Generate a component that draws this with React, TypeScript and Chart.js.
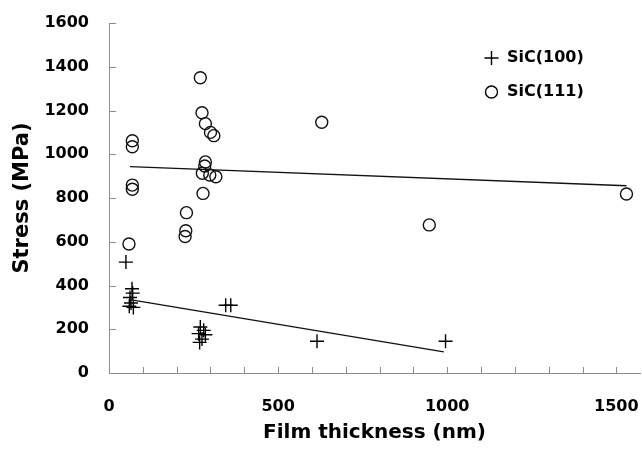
import React, { useEffect, useRef } from "react";
import { Chart, registerables } from "chart.js";

Chart.register(...registerables);

// SiC(100) measurements: film thickness (nm) and stress (MPa)
const thickness100 = [50, 68, 70, 62, 65, 60, 72, 270, 280, 265, 285, 275, 268, 345, 360, 615, 995];
const stress100 = [507, 385, 365, 345, 320, 305, 300, 210, 195, 180, 175, 155, 140, 310, 310, 145, 145];

// SiC(111) measurements
const thickness111 = [59, 69, 69, 69, 69, 229, 227, 225, 270, 275, 285, 300, 310, 285, 283, 276, 298, 316, 278, 629, 947, 1530];
const stress111 = [590, 1062, 1034, 859, 840, 733, 650, 624, 1350, 1190, 1140, 1100, 1085, 965, 946, 913, 905, 897, 821, 1146, 677, 818];

// Linear trend line end points
const trendX100 = [62, 990];
const trendY100 = [335, 97];
const trendX111 = [62, 1530];
const trendY111 = [943, 856];

const xLabels = [0, 500, 1000, 1500];
const X_MAX = 1570;
const X_MINOR = 100;
const seriesNames = ["SiC(100)", "SiC(111)"];

const FONT = "'DejaVu Sans', sans-serif";

const zip = (xs: number[], ys: number[]) => xs.map((x, i) => ({ x, y: ys[i] }));

const innerTicksPlugin = {
  id: "innerTicks",
  afterDraw(chart: any) {
    const ctx = chart.ctx;
    const xs = chart.scales.x;
    const ys = chart.scales.y;
    ctx.save();
    ctx.strokeStyle = "#8c8c8c";
    ctx.lineWidth = 1;
    ctx.beginPath();
    xs.ticks.forEach((t: any) => {
      if (t.value === 0 || t.value % X_MINOR !== 0) return;
      const px = Math.round(xs.getPixelForValue(t.value)) + 0.5;
      ctx.moveTo(px, ys.bottom);
      ctx.lineTo(px, ys.bottom - 6);
    });
    ys.ticks.forEach((t: any) => {
      if (t.value === 0) return;
      const py = Math.round(ys.getPixelForValue(t.value)) + 0.5;
      ctx.moveTo(xs.left, py);
      ctx.lineTo(xs.left + 7, py);
    });
    ctx.stroke();
    ctx.restore();
  },
};

const legendPlugin = {
  id: "customLegend",
  afterDraw(chart: any) {
    const ctx = chart.ctx;
    ctx.save();
    ctx.strokeStyle = "#000";
    ctx.lineWidth = 1.4;
    const px = 491.5, py1 = 58, py2 = 92;
    ctx.beginPath();
    ctx.moveTo(px - 7, py1);
    ctx.lineTo(px + 7, py1);
    ctx.moveTo(px, py1 - 7);
    ctx.lineTo(px, py1 + 7);
    ctx.stroke();
    ctx.beginPath();
    ctx.arc(px, py2, 6, 0, Math.PI * 2);
    ctx.stroke();
    ctx.fillStyle = "#000";
    ctx.font = `bold 16px ${FONT}`;
    ctx.textBaseline = "middle";
    ctx.textAlign = "left";
    ctx.fillText(seriesNames[0], 507, py1);
    ctx.fillText(seriesNames[1], 507, py2);
    ctx.restore();
  },
};

export default function App() {
  const ref = useRef<HTMLCanvasElement | null>(null);

  useEffect(() => {
    if (!ref.current) return;
    const chart = new Chart(ref.current, {
      type: "scatter",
      data: {
        datasets: [
          {
            label: seriesNames[0],
            data: zip(thickness100, stress100),
            pointStyle: "cross",
            pointRadius: 7,
            borderColor: "#000",
            borderWidth: 1.4,
            backgroundColor: "#000",
          },
          {
            label: seriesNames[1],
            data: zip(thickness111, stress111),
            pointStyle: "circle",
            pointRadius: 6,
            borderColor: "#111",
            borderWidth: 1.4,
            backgroundColor: "rgba(0,0,0,0)",
          },
          {
            label: "trend100",
            type: "line",
            data: zip(trendX100, trendY100),
            showLine: true,
            pointRadius: 0,
            borderColor: "#111",
            borderWidth: 1.3,
          },
          {
            label: "trend111",
            type: "line",
            data: zip(trendX111, trendY111),
            showLine: true,
            pointRadius: 0,
            borderColor: "#111",
            borderWidth: 1.3,
          },
        ],
      } as any,
      options: {
        animation: false,
        responsive: false,
        maintainAspectRatio: false,
        layout: { autoPadding: false, padding: { left: 0, right: 2, top: 23, bottom: 0 } },
        plugins: {
          legend: { display: false },
          tooltip: { enabled: false },
        },
        scales: {
          x: {
            type: "linear",
            min: 0,
            max: X_MAX,
            grid: { display: false, drawTicks: true, tickLength: 24 },
            border: { display: true, color: "#8c8c8c", width: 1 },
            afterBuildTicks: (s: any) => {
              const t: any[] = [];
              for (let v = 0; v <= 1500; v += X_MINOR) t.push({ value: v });
              t.push({ value: X_MAX });
              s.ticks = t;
            },
            ticks: {
              autoSkip: false,
              maxRotation: 0,
              padding: 0,
              color: "#000",
              font: { family: FONT, size: 16, weight: "bold" },
              callback: (v: any) => (xLabels.includes(Number(v)) ? String(v) : ""),
            },
            title: {
              display: true,
              text: "Film thickness (nm)",
              color: "#000",
              font: { family: FONT, size: 20, weight: "bold" },
              padding: { top: 0, bottom: 6 },
            },
            afterFit: (s: any) => {
              s.height = 78;
            },
          },
          y: {
            type: "linear",
            min: 0,
            max: 1600,
            grid: { display: false, drawTicks: true, tickLength: 20 },
            border: { display: true, color: "#8c8c8c", width: 1 },
            ticks: {
              stepSize: 200,
              padding: 0,
              color: "#000",
              font: { family: FONT, size: 16, weight: "bold" },
              callback: (v: any) => String(v),
            },
            title: {
              display: true,
              text: "Stress (MPa)",
              color: "#000",
              font: { family: FONT, size: 21, weight: "bold" },
              padding: { top: 10, bottom: 0 },
            },
            afterFit: (s: any) => {
              s.width = 109;
            },
          },
        },
      } as any,
      plugins: [innerTicksPlugin, legendPlugin],
    });
    return () => chart.destroy();
  }, []);

  return (
    <div style={{ position: "absolute", left: 0, top: 0, width: 642, height: 451, background: "#fff" }}>
      <canvas ref={ref} width={642} height={451} style={{ display: "block" }} />
    </div>
  );
}
